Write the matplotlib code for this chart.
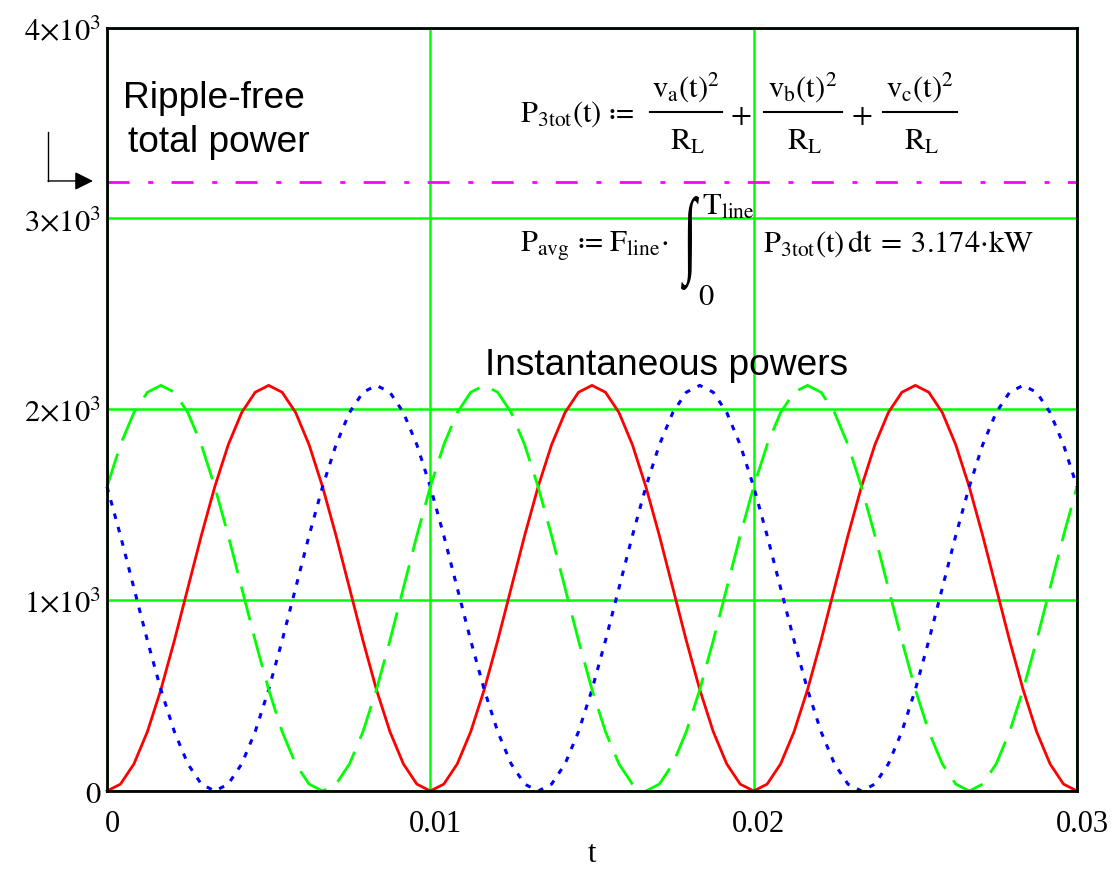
import numpy as np
import matplotlib
matplotlib.use("Agg")
from matplotlib import pyplot as plt
from matplotlib.transforms import ScaledTranslation, Affine2D
from matplotlib.textpath import TextPath
from matplotlib.patches import PathPatch
from matplotlib.font_manager import FontProperties

t = np.linspace(0, 0.03, 73)
p_a = [0, 36, 142, 311, 531, 788, 1063, 1338, 1594, 1814, 1983, 2089, 2125, 2089, 1983, 1814, 1594, 1338, 1063, 788, 531, 311, 142, 36,
       0, 36, 142, 311, 531, 788, 1063, 1338, 1594, 1814, 1983, 2089, 2125, 2089, 1983, 1814, 1594, 1338, 1063, 788, 531, 311, 142, 36,
       0, 36, 142, 311, 531, 788, 1063, 1338, 1594, 1814, 1983, 2089, 2125, 2089, 1983, 1814, 1594, 1338, 1063, 788, 531, 311, 142, 36,
       0]
p_b = [1594, 1338, 1063, 788, 531, 311, 142, 36, 0, 36, 142, 311, 531, 788, 1063, 1338, 1594, 1814, 1983, 2089, 2125, 2089, 1983, 1814,
       1594, 1338, 1063, 788, 531, 311, 142, 36, 0, 36, 142, 311, 531, 788, 1063, 1338, 1594, 1814, 1983, 2089, 2125, 2089, 1983, 1814,
       1594, 1338, 1063, 788, 531, 311, 142, 36, 0, 36, 142, 311, 531, 788, 1063, 1338, 1594, 1814, 1983, 2089, 2125, 2089, 1983, 1814,
       1594]
p_c = [1594, 1814, 1983, 2089, 2125, 2089, 1983, 1814, 1594, 1338, 1063, 788, 531, 311, 142, 36, 0, 36, 142, 311, 531, 788, 1063, 1338,
       1594, 1814, 1983, 2089, 2125, 2089, 1983, 1814, 1594, 1338, 1063, 788, 531, 311, 142, 36, 0, 36, 142, 311, 531, 788, 1063, 1338,
       1594, 1814, 1983, 2089, 2125, 2089, 1983, 1814, 1594, 1338, 1063, 788, 531, 311, 142, 36, 0, 36, 142, 311, 531, 788, 1063, 1338,
       1594]
p_total = 3190

x_ticks = [0, 0.01, 0.02, 0.03]
x_labels = ["0", "0.01", "0.02", "0.03"]
y_ticks = [0, 1000, 2000, 3000, 4000]
y_labels = ["$0$", r"$1{\times}10^{3}$", r"$2{\times}10^{3}$", r"$3{\times}10^{3}$", r"$4{\times}10^{3}$"]

plt.rcParams["mathtext.fontset"] = "stix"
plt.rcParams["font.family"] = "Liberation Serif"
plt.rcParams["lines.scale_dashes"] = False

W, H = 1120, 887
fig = plt.figure(figsize=(W / 100, H / 100), dpi=100)
ax = fig.add_axes([107 / W, 1 - 792 / H, 970 / W, 763.5 / H])


def pos(xp, yp):
    # pixel position in the image -> axes fraction
    return (xp - 107) / 970, (792 - yp) / 763.5


ax.plot(t, p_a, color="#ff0000", lw=2.0, clip_on=False, zorder=3)
ax.plot(t, p_b, color="#0000ff", lw=2.2, ls=(0, (4, 6)), clip_on=False, zorder=3)
ax.plot(t, p_c, color="#00ff00", lw=2.0, ls=(0, (25, 10)), clip_on=False, zorder=3)
ax.axhline(p_total, color="#ff00ff", lw=2.0, ls=(0, (15.8, 13.5, 3.6, 13.2)), zorder=3)

ax.set_xlim(0, 0.03)
ax.set_ylim(0, 4000)
ax.set_xticks(x_ticks)
ax.set_xticklabels(x_labels)
ax.set_yticks(y_ticks)
ax.set_yticklabels(y_labels)
ax.tick_params(length=0, labelsize=22)
ax.tick_params(axis="x", pad=13)
ax.tick_params(axis="y", pad=4)
shift = ScaledTranslation(5 / 100, 0, fig.dpi_scale_trans)
for lbl in ax.get_xticklabels():
    lbl.set_transform(lbl.get_transform() + shift)
ax.grid(color="#00ff00", lw=1.8)
ax.set_axisbelow(True)
for s in ax.spines.values():
    s.set_linewidth(2.0)
    s.set_color("black")
    s.set_zorder(4)
ax.set_xlabel("t", fontsize=22, labelpad=1)

sans = "Liberation Sans"
ax.text(*pos(123, 108), "Ripple-free", transform=ax.transAxes, fontsize=26.7, family=sans, va="baseline")
ax.text(*pos(128, 152), "total power", transform=ax.transAxes, fontsize=26.7, family=sans, va="baseline")
ax.text(*pos(485, 375), "Instantaneous powers", transform=ax.transAxes, fontsize=26.7, family=sans, va="baseline")

# P3tot definition, built piece by piece
kw = dict(transform=ax.transAxes, fontsize=22, va="baseline")
ax.text(*pos(520, 122), r"$\mathrm{P_{3tot}(t)}\ ≔$", **kw)
for name, xc, half in [("a", 686, 36), ("b", 803, 39), ("c", 920, 37)]:
    ax.text(*pos(xc, 97), r"$\mathrm{v_{%s}(t)^{2}}$" % name, ha="center", **kw)
    ax.text(*pos(xc + 2, 150), r"$\mathrm{R_{L}}$", ha="center", **kw)
    x0, yb = pos(xc - half, 113)
    x1, _ = pos(xc + half, 113)
    ax.plot([x0, x1], [yb, yb], color="black", lw=1.5, transform=ax.transAxes, clip_on=False)
for xc in [741, 862]:
    ax.text(*pos(xc, 124), "$+$", ha="center", **kw)

# P_avg line
ax.text(*pos(520, 252), r"$\mathrm{P_{avg}}\ ≔\ \mathrm{F_{line}}{\cdot}$", **kw)
# tall thin integral sign: glyph outline stretched into its box
ip = TextPath((0, 0), "∫", size=40, prop=FontProperties(family="Liberation Serif"))
ib = ip.get_extents()
bx0, bx1, by_top, by_bot = 681, 699, 197, 291
tr = (Affine2D().translate(-ib.x0, -ib.y0)
      .scale((bx1 - bx0) / ib.width, (by_bot - by_top) / ib.height)
      .translate(bx0, H - by_bot))
fig.add_artist(PathPatch(ip, transform=tr, facecolor="black", edgecolor="none"))
ax.text(*pos(702, 215), r"$\mathrm{T_{line}}$", **kw)
ax.text(*pos(698, 305), "$0$", **kw)
ax.text(*pos(763, 252), r"$\mathrm{P_{3tot}(t)\,dt}\:=\:3.174{\cdot}\mathrm{kW}$", **kw)

# little bent arrow pointing at the average line
ax.plot([-0.0608, -0.0608], [0.863, 0.799], color="black", lw=1.0, transform=ax.transAxes, clip_on=False)
ax.annotate("", xy=(-0.0144, 0.799), xytext=(-0.0608, 0.799), xycoords="axes fraction",
            arrowprops=dict(arrowstyle="-|>", color="black", lw=1.0, mutation_scale=28, shrinkA=0, shrinkB=0))

fig.savefig("out.png", dpi=100)
